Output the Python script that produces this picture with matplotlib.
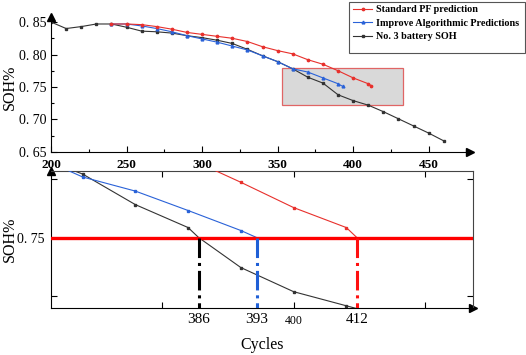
import numpy as np
import matplotlib
matplotlib.use("Agg")
import matplotlib.pyplot as plt
from matplotlib.patches import Rectangle
from matplotlib.ticker import MultipleLocator, FuncFormatter

plt.rcParams['font.family'] = ['Liberation Serif', 'DejaVu Serif']

# ---- top panel data (cycles, SOH)
blk_c = [200, 210, 220, 230, 240, 250, 260, 270, 280, 290, 300, 310, 320, 330,
         340, 350, 360, 370, 380, 390, 400, 410, 420, 430, 440, 450, 460]
blk_v = [0.850, 0.840, 0.843, 0.847, 0.847, 0.842, 0.836, 0.835, 0.833, 0.829,
         0.826, 0.822, 0.817, 0.808, 0.798, 0.789, 0.778, 0.765, 0.756, 0.738,
         0.729, 0.722, 0.712, 0.701, 0.690, 0.679, 0.667]
red_c = [240, 250, 260, 270, 280, 290, 300, 310, 320, 330, 340, 350, 360, 370,
         380, 390, 400, 410, 412]
red_v = [0.847, 0.847, 0.846, 0.843, 0.839, 0.834, 0.831, 0.828, 0.825, 0.820,
         0.812, 0.806, 0.801, 0.792, 0.785, 0.775, 0.764, 0.755, 0.752]
blu_c = [240, 250, 260, 270, 280, 290, 300, 310, 320, 330, 340, 350, 360, 370,
         380, 390, 393]
blu_v = [0.847, 0.847, 0.844, 0.840, 0.835, 0.829, 0.824, 0.819, 0.813, 0.807,
         0.798, 0.789, 0.778, 0.773, 0.764, 0.755, 0.751]

# zoom box (cycles, SOH)
box_x = [353, 433]
box_y = [0.722, 0.779]

# ---- bottom panel data (magnified view)
zb_c = [350, 360, 370, 380, 382, 390, 400, 410, 420]
zb_v = [0.7642, 0.7608, 0.7556, 0.7517, 0.7500, 0.7449, 0.7408, 0.7384, 0.7360]
zu_c = [350, 360, 370, 380, 390, 393]
zu_v = [0.7643, 0.7603, 0.7579, 0.7546, 0.7512, 0.7500]
zr_c = [380, 390, 400, 410, 412]
zr_v = [0.7635, 0.7594, 0.7551, 0.7517, 0.7500]
threshold = 0.75
cross_x = [382, 393, 412]
cross_lab = ["386", "393", "412"]
cross_col = ["black", "#1f5fd6", "#ff1010"]

RED = "#e8302c"
BLUE = "#2a62d8"
BLACK = "#333333"

W, H = 526, 355
fig = plt.figure(figsize=(W / 100, H / 100), dpi=100)

# ================= top panel
ax = fig.add_axes([0.097, 0.572, 0.797, 0.38])
ax.add_patch(Rectangle((box_x[0], box_y[0]), box_x[1] - box_x[0], box_y[1] - box_y[0],
                       facecolor="#d9d9d9", edgecolor="#e06565", lw=0.9, zorder=0))
ax.plot(blk_c, blk_v, color=BLACK, lw=0.8, marker='s', ms=1.6, label="No. 3 battery SOH", zorder=2)
ax.plot(blu_c, blu_v, color=BLUE, lw=0.8, marker='^', ms=2.0, label="Improve Algorithmic Predictions", zorder=3)
ax.plot(red_c, red_v, color=RED, lw=0.8, marker='o', ms=1.7, label="Standard PF prediction", zorder=4)

ax.set_xlim(200, 477.5)
ax.set_ylim(0.65, 0.8577)
ax.spines['top'].set_visible(False)
ax.spines['right'].set_visible(False)
ax.xaxis.set_minor_locator(MultipleLocator(25))
ax.yaxis.set_major_locator(MultipleLocator(0.05))
ax.yaxis.set_minor_locator(MultipleLocator(0.025))
ax.set_xticks([200, 250, 300, 350, 400, 450])
ax.tick_params(direction='in', length=4, width=0.8)
ax.tick_params(which='minor', direction='in', length=2.5, width=0.8)
ax.tick_params(axis='x', labelsize=9.5, pad=5)
ax.tick_params(axis='y', labelsize=10)
for t in ax.get_xticklabels():
    t.set_fontweight('bold')
ax.yaxis.set_major_formatter(FuncFormatter(lambda v, p: "0. %02d" % round(v * 100)))
ax.set_ylabel("SOH%", fontsize=11.5)
ax.yaxis.set_label_coords(-0.078, 0.48)
ax.plot(1, 0, marker='>', color='black', ms=6, transform=ax.transAxes, clip_on=False)
ax.plot(0, 1, marker='^', color='black', ms=6, transform=ax.transAxes, clip_on=False)

# legend with a taller frame drawn by hand
fig.patches.append(Rectangle((349 / W, 1 - 53 / H), 176 / W, 51 / H, transform=fig.transFigure,
                             facecolor='white', edgecolor='#555555', lw=0.8, zorder=5))
h, l = ax.get_legend_handles_labels()
leg = fig.legend(h[::-1], l[::-1], loc='upper left', bbox_to_anchor=(351 / W, 1 - 3 / H),
                 prop={'weight': 'bold', 'size': 7.3}, frameon=False, borderaxespad=0,
                 handlelength=1.9, handletextpad=0.4, labelspacing=0.45, borderpad=0.2)
leg.set_zorder(6)

# ================= bottom panel
bx = fig.add_axes([0.097, 0.132, 0.802, 0.386])
bx.plot(zb_c, zb_v, color=BLACK, lw=0.8, marker='s', ms=1.8,
        markevery=[1, 2, 3, 5, 6, 7], zorder=2)
bx.plot(zu_c, zu_v, color=BLUE, lw=0.8, marker='s', ms=1.8,
        markevery=[1, 2, 3, 4], zorder=3)
bx.plot(zr_c, zr_v, color=RED, lw=0.8, marker='s', ms=1.8,
        markevery=[0, 1, 2, 3], zorder=3)
bx.axhline(threshold, color='#ff0000', lw=2.4, zorder=4)
for cx, cc in zip(cross_x, cross_col):
    bx.plot([cx, cx], [threshold, 0.738], color=cc, lw=2.2, ls='-.', zorder=5)

bx.set_xlim(354, 434)
bx.set_ylim(0.738, 0.7613)
bx.set_xticks([375, 400, 425])
bx.set_xticklabels(["", "400", ""], fontsize=8.5)
bx.set_yticks([0.74, 0.75, 0.76])
bx.set_yticklabels(["", "0. 75", ""], fontsize=10)
bx.tick_params(direction='in', length=4, width=0.8, top=True, right=True, pad=5)
for cx, lab in zip(cross_x, cross_lab):
    bx.text(cx, -0.035, lab, transform=bx.get_xaxis_transform(),
            ha='center', va='top', fontsize=11)
for s in ['top', 'right']:
    bx.spines[s].set_color('#444444')
    bx.spines[s].set_linewidth(0.8)
bx.set_ylabel("SOH%", fontsize=11.5)
bx.yaxis.set_label_coords(-0.078, 0.5)
bx.set_xlabel("Cycles", fontsize=11.5)
bx.xaxis.set_label_coords(0.5, -0.21)
bx.plot(1, 0, marker='>', color='black', ms=6, transform=bx.transAxes, clip_on=False)
bx.plot(0, 1, marker='^', color='black', ms=6, transform=bx.transAxes, clip_on=False)

fig.savefig("out.png", dpi=100)
